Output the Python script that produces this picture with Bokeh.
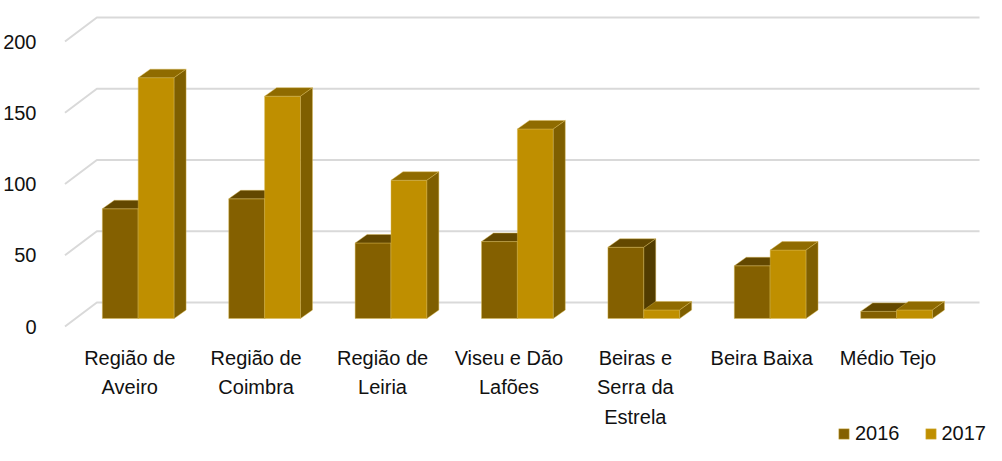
from bokeh.plotting import figure
from bokeh.models import Range1d, FixedTicker, Legend, LegendItem
from bokeh.core.properties import value
from bokeh.embed import file_html
from bokeh.resources import INLINE

categories = ["Região de\nAveiro", "Região de\nCoimbra", "Região de\nLeiria",
              "Viseu e Dão\nLafões", "Beiras e\nSerra da\nEstrela", "Beira Baixa", "Médio Tejo"]
series_names = ["2016", "2017"]
values_2016 = [77, 84, 53, 54, 50, 37, 5]
values_2017 = [169, 156, 97, 133, 6, 48, 6]
y_ticks = [0, 50, 100, 150, 200]

FONT = "Liberation Sans"
FS = "20px"
W, H = 986, 445
BL = 52          # left border
PX_X = 126.8     # px per category
PX_Y = 1.425     # px per value unit
TOP = 0          # page y of frame top
LEFT = 58        # page x of frame left

x_start = (LEFT - 141) / PX_X
x_end = (LEFT + (W - BL) - 141) / PX_X
y_start = (326 - (TOP + H)) / PX_Y
y_end = (326 - TOP) / PX_Y

p = figure(width=W, height=H, output_backend="svg", toolbar_location=None,
           x_range=Range1d(x_start, x_end), y_range=Range1d(y_start, y_end),
           min_border_left=BL, min_border_right=0, min_border_top=0, min_border_bottom=0,
           x_axis_type=None)
p.outline_line_color = None
p.xgrid.visible = False
p.ygrid.visible = False
p.background_fill_color = "white"
p.border_fill_color = "white"

yax = p.yaxis[0]
yax.ticker = FixedTicker(ticks=y_ticks)
yax.axis_line_color = None
yax.major_tick_line_color = None
yax.minor_tick_line_color = None
yax.major_label_standoff = 13
yax.major_label_text_font = FONT
yax.major_label_text_font_size = FS
yax.major_label_text_color = "#111111"

# 3D gridlines (back wall + left diagonal)
grid_dy = 24 / PX_Y
x_front = (67.5 - 141) / PX_X
x_back = (99.5 - 141) / PX_X
x_right = (985 - 141) / PX_X
p.multi_line(xs=[[x_front, x_back, x_right] for _ in y_ticks],
             ys=[[t, t + grid_dy, t + grid_dy] for t in y_ticks],
             line_color="#D9D9D9", line_width=2)

# 3D bars
bw = 36 / PX_X
dx = 12 / PX_X
dy = 8.5 / PX_Y
b0 = 8 / PX_Y

styles = [
    dict(front="#846000", top="#634800", side="#523C00"),
    dict(front="#BF8F00", top="#8F6B00", side="#7F5F00"),
]
edge = dict(line_color="#D8B850", line_alpha=0.55, line_width=0.8)

front_renderers = []
for s, vals in enumerate([values_2016, values_2017]):
    st = styles[s]
    lefts = [i - bw + s * bw for i in range(len(vals))]
    rights = [l + bw for l in lefts]
    tops = [b0 + v for v in vals]
    fr = p.quad(left=lefts, right=rights, bottom=[b0] * len(vals), top=tops,
                fill_color=st["front"], **edge)
    front_renderers.append(fr)
    p.patches(xs=[[l, r, r + dx, l + dx] for l, r in zip(lefts, rights)],
              ys=[[t, t, t + dy, t + dy] for t in tops],
              fill_color=st["top"], **edge)
    p.patches(xs=[[r, r + dx, r + dx, r] for r in rights],
              ys=[[b0, b0 + dy, t + dy, t] for t in tops],
              fill_color=st["side"], **edge)

# category labels
label_y = (326 - 346) / PX_Y
p.text(x=[i - 8.5 / PX_X for i in range(len(categories))], y=[label_y] * len(categories),
       text=categories, text_align="center", text_baseline="top",
       text_font=value(FONT), text_font_size=FS, text_color="#111111",
       text_line_height=1.35)

legend = Legend(items=[LegendItem(label=series_names[k], renderers=[front_renderers[k]])
                       for k in range(2)],
                location="bottom_right", orientation="horizontal",
                glyph_width=13, glyph_height=13, label_standoff=5, spacing=24,
                padding=0, margin=0, border_line_color=None, background_fill_alpha=0,
                label_text_font=FONT, label_text_font_size=FS,
                label_text_color="#111111")
p.add_layout(legend)

open("out.html", "w").write(file_html(p, INLINE))
